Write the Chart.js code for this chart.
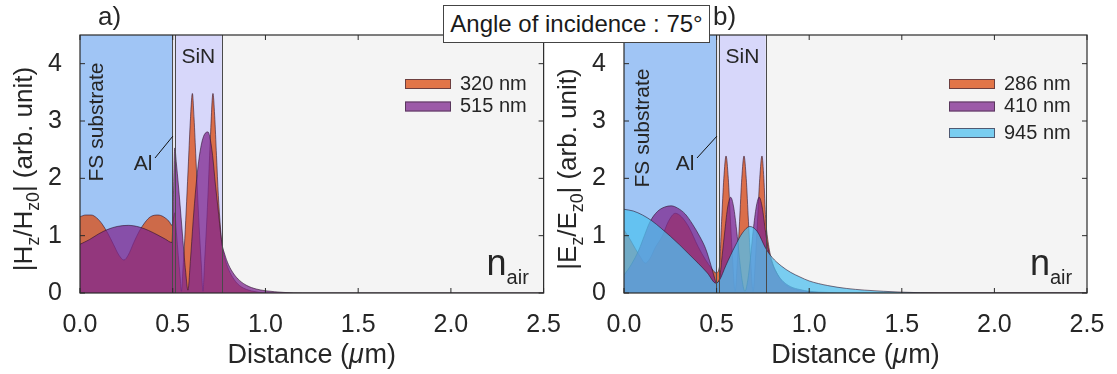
<!DOCTYPE html>
<html>
<head>
<meta charset="utf-8">
<script src="https://cdn.jsdelivr.net/npm/chart.js@4.4.0/dist/chart.umd.min.js"></script>
<style>
  body { margin: 0; background: #fff; width: 1117px; height: 374px; position: relative; overflow: hidden; font-family: 'Liberation Sans', Arial, sans-serif; }
  canvas { position: absolute; top: 0; }
  #panelA { left: 0; }
  #panelB { left: 547px; }
  #angle { position: absolute; left: 443px; top: 5px; width: 265px; height: 36px; border: 1px solid #444; background: #fff;
           font-size: 24px; color: #1a1a1a; line-height: 36px; text-align: center; white-space: nowrap; z-index: 5; }
</style>
</head>
<body>
<canvas id="panelA" width="570" height="374"></canvas>
<canvas id="panelB" width="570" height="374"></canvas>
<div id="angle">Angle of incidence : 75°</div>
<script>
// ---- data ----
const xTickLabels = ['0.0', '0.5', '1.0', '1.5', '2.0', '2.5'];
const yTickLabels = ['0', '1', '2', '3', '4'];

// layers (µm) for each panel
const fsA = [0, 0.496], alA = [0.496, 0.511], sinA = [0.511, 0.765];
const fsB = [0, 0.497], alB = [0.497, 0.515], sinB = [0.515, 0.765];

// panel a) |Hz/Hz0|
const h320X = [0, 0.03, 0.06, 0.09, 0.12, 0.15, 0.18, 0.21, 0.237, 0.26, 0.29, 0.32, 0.35, 0.38, 0.42, 0.45, 0.48, 0.496,
  0.511, 0.52, 0.53, 0.54, 0.547, 0.555, 0.565, 0.575, 0.585, 0.595, 0.606, 0.615, 0.625, 0.635, 0.645, 0.655, 0.663,
  0.672, 0.682, 0.692, 0.703, 0.717, 0.726, 0.736, 0.746, 0.756, 0.765, 0.78, 0.8, 0.83, 0.86, 0.9, 0.95, 1.0, 2.5];
const h320Y = [1.33, 1.36, 1.36, 1.31, 1.2, 1.04, 0.85, 0.66, 0.575, 0.66, 0.88, 1.08, 1.23, 1.33, 1.36, 1.33, 1.25, 1.18,
  1.4, 1.05, 0.65, 0.28, 0.03, 0.4, 0.95, 1.6, 2.3, 3.0, 3.48, 3.05, 2.35, 1.65, 1.0, 0.45, 0.03,
  0.55, 1.15, 1.85, 2.7, 3.48, 3.1, 2.4, 1.7, 1.2, 0.87, 0.62, 0.42, 0.24, 0.13, 0.06, 0.02, 0, 0];

const h515X = [0, 0.05, 0.1, 0.15, 0.2, 0.26, 0.32, 0.37, 0.42, 0.46, 0.496, 0.503, 0.511, 0.52, 0.53, 0.54, 0.55, 0.56,
  0.57, 0.582, 0.595, 0.61, 0.625, 0.64, 0.655, 0.67, 0.69, 0.7, 0.715, 0.73, 0.745, 0.765, 0.78, 0.8, 0.83, 0.86, 0.9,
  0.95, 1.0, 1.1, 1.2, 2.5];
const h515Y = [0.85, 0.93, 1.03, 1.11, 1.16, 1.18, 1.15, 1.09, 1.01, 0.94, 0.88, 1.6, 2.53, 2.25, 1.9, 1.52, 1.12, 0.72,
  0.36, 0.05, 0.55, 1.25, 1.85, 2.3, 2.6, 2.76, 2.81, 2.72, 2.4, 1.9, 1.45, 0.87, 0.68, 0.5, 0.33, 0.22, 0.13,
  0.07, 0.04, 0.01, 0, 0];

// panel b) |Ez/Ez0|
const e286X = [0, 0.03, 0.06, 0.09, 0.115, 0.14, 0.17, 0.205, 0.24, 0.277, 0.31, 0.35, 0.4, 0.44, 0.475, 0.497, 0.515,
  0.527, 0.539, 0.551, 0.563, 0.575, 0.587, 0.6, 0.612, 0.624, 0.636, 0.648, 0.66, 0.672, 0.684, 0.697, 0.709, 0.721,
  0.733, 0.745, 0.755, 0.765, 0.78, 0.8, 0.83, 0.86, 0.9, 0.95, 1.0, 1.1, 2.5];
const e286Y = [1.1, 0.95, 0.78, 0.62, 0.52, 0.6, 0.8, 0.98, 1.25, 1.39, 1.33, 1.15, 0.81, 0.58, 0.42, 0.35, 0.45,
  1.25, 2.0, 2.39, 2.0, 1.25, 0.55, 0.03, 0.55, 1.25, 2.0, 2.39, 2.0, 1.25, 0.55, 0.03, 0.55, 1.25,
  2.0, 2.39, 2.0, 1.3, 0.85, 0.55, 0.32, 0.18, 0.09, 0.04, 0.02, 0, 0];

const e410X = [0, 0.04, 0.08, 0.11, 0.14, 0.18, 0.22, 0.255, 0.29, 0.33, 0.37, 0.41, 0.44, 0.47, 0.49, 0.497, 0.515,
  0.53, 0.545, 0.56, 0.576, 0.592, 0.608, 0.623, 0.638, 0.653, 0.668, 0.683, 0.698, 0.714, 0.73, 0.746, 0.765, 0.78,
  0.8, 0.83, 0.86, 0.9, 0.95, 1.0, 1.1, 1.2, 2.5];
const e410Y = [0.31, 0.5, 0.75, 1.0, 1.24, 1.42, 1.5, 1.52, 1.48, 1.38, 1.2, 0.98, 0.78, 0.48, 0.25, 0.18, 0.24,
  0.65, 1.1, 1.5, 1.67, 1.5, 1.1, 0.62, 0.22, 0.03, 0.22, 0.62, 1.1, 1.5, 1.67, 1.5, 1.05, 0.75,
  0.52, 0.32, 0.2, 0.11, 0.06, 0.03, 0.01, 0, 0];

const e945X = [0, 0.05, 0.1, 0.15, 0.2, 0.25, 0.3, 0.35, 0.4, 0.45, 0.497, 0.515, 0.55, 0.6, 0.64, 0.68, 0.72, 0.765,
  0.8, 0.85, 0.9, 0.95, 1.0, 1.1, 1.2, 1.3, 1.4, 1.5, 1.6, 1.7, 2.5];
const e945Y = [1.46, 1.43, 1.36, 1.26, 1.13, 0.99, 0.84, 0.68, 0.52, 0.35, 0.17, 0.22, 0.48, 0.82, 1.05, 1.16, 1.07, 0.78,
  0.62, 0.47, 0.36, 0.28, 0.21, 0.13, 0.08, 0.05, 0.03, 0.015, 0.005, 0, 0];

// ---- style ----
const FONT = "'Liberation Sans', Arial, Helvetica, sans-serif";
const INK = '#262626';
const ORANGE = 'rgba(220,75,15,0.75)';
const PURPLE = 'rgba(127,39,143,0.75)';
const BLUE = 'rgba(80,192,239,0.75)';

function pts(xs, ys) {
  return xs.map((x, i) => ({ x: x, y: ys[i] }));
}

function series(label, xs, ys, color, order) {
  return {
    label: label,
    data: pts(xs, ys),
    backgroundColor: color,
    borderColor: 'rgba(45,20,45,0.75)',
    borderWidth: 0.8,
    fill: 'origin',
    pointRadius: 0,
    cubicInterpolationMode: 'monotone',
    order: order
  };
}

// text with subscripts, drawn along current x axis, centred on 0
function drawRich(ctx, parts, size) {
  let total = 0;
  parts.forEach(p => {
    ctx.font = (p.sub ? size * 0.68 : size) + 'px ' + FONT;
    p.w = ctx.measureText(p.t).width;
    total += p.w;
  });
  let x = -total / 2;
  parts.forEach(p => {
    ctx.font = (p.italic ? 'italic ' : '') + (p.sub ? size * 0.68 : size) + 'px ' + FONT;
    ctx.fillText(p.t, x, p.sub ? size * 0.28 : 0);
    x += p.w;
  });
}

function panelPlugin(cfg) {
  return {
    id: 'panel' + cfg.tag,
    beforeDatasetsDraw(chart) {
      const { ctx, chartArea: a, scales: { x } } = chart;
      const px = v => x.getPixelForValue(v);
      ctx.save();
      ctx.fillStyle = '#f4f4f4';
      ctx.fillRect(a.left, a.top, a.width, a.height);
      ctx.fillStyle = '#a0c5f5';
      ctx.fillRect(px(cfg.fs[0]), a.top, px(cfg.fs[1]) - px(cfg.fs[0]), a.height);
      ctx.fillStyle = '#e6e6ee';
      ctx.fillRect(px(cfg.al[0]), a.top, px(cfg.al[1]) - px(cfg.al[0]), a.height);
      ctx.fillStyle = '#d7d7fa';
      ctx.fillRect(px(cfg.sin[0]), a.top, px(cfg.sin[1]) - px(cfg.sin[0]), a.height);
      ctx.restore();
    },
    afterDatasetsDraw(chart) {
      const { ctx, chartArea: a, scales: { x, y } } = chart;
      const px = v => x.getPixelForValue(v);
      ctx.save();
      // layer borders
      ctx.strokeStyle = '#4a4a4a';
      ctx.lineWidth = 1;
      [cfg.al[0], cfg.al[1], cfg.sin[1]].forEach(v => {
        const p = Math.round(px(v)) + 0.5;
        ctx.beginPath(); ctx.moveTo(p, a.top); ctx.lineTo(p, a.bottom); ctx.stroke();
      });
      // frame + inward ticks
      ctx.strokeStyle = '#2a2a2a';
      ctx.lineWidth = 1.2;
      ctx.strokeRect(a.left, a.top, a.width, a.height);
      ctx.lineWidth = 1;
      x.ticks.forEach(t => {
        const p = px(t.value);
        ctx.beginPath();
        ctx.moveTo(p, a.bottom); ctx.lineTo(p, a.bottom - 5);
        ctx.moveTo(p, a.top); ctx.lineTo(p, a.top + 5);
        ctx.stroke();
      });
      y.ticks.forEach(t => {
        const p = y.getPixelForValue(t.value);
        ctx.beginPath();
        ctx.moveTo(a.left, p); ctx.lineTo(a.left + 5, p);
        ctx.moveTo(a.right, p); ctx.lineTo(a.right - 5, p);
        ctx.stroke();
      });

      ctx.fillStyle = INK;
      // layer labels
      ctx.textAlign = 'center';
      ctx.textBaseline = 'middle';
      ctx.font = '21px ' + FONT;
      ctx.fillText('SiN', (px(cfg.sin[0]) + px(cfg.sin[1])) / 2, 57);
      ctx.save();
      ctx.translate(a.left + cfg.fsX, cfg.fsY);
      ctx.rotate(-Math.PI / 2);
      ctx.fillText('FS substrate', 0, 0);
      ctx.restore();
      ctx.fillText('Al', a.left + cfg.alX, 164);
      ctx.strokeStyle = '#111';
      ctx.lineWidth = 1;
      ctx.beginPath();
      ctx.moveTo(a.left + cfg.alX + 12, 158);
      ctx.lineTo(px(cfg.al[0]) + 1, 136);
      ctx.stroke();

      // n_air
      ctx.textAlign = 'left';
      ctx.textBaseline = 'alphabetic';
      ctx.font = '36px ' + FONT;
      ctx.fillText('n', a.right - 57, 275);
      ctx.font = '20px ' + FONT;
      ctx.fillText('air', a.right - 37, 284);

      // legend
      ctx.textBaseline = 'middle';
      ctx.font = '20px ' + FONT;
      chart.data.datasets.forEach((d, i) => {
        const ly = cfg.legendY[i];
        ctx.fillStyle = '#f4f4f4';
        ctx.fillRect(a.left + 325, ly, 46, 10);
        ctx.fillStyle = d.backgroundColor;
        ctx.fillRect(a.left + 325, ly, 46, 10);
        ctx.strokeStyle = 'rgba(60,40,60,0.7)';
        ctx.strokeRect(a.left + 325.5, ly + 0.5, 45, 9);
        ctx.fillStyle = INK;
        ctx.fillText(d.label, a.left + 380, ly + 5);
      });

      // panel letter
      ctx.font = '26px ' + FONT;
      ctx.fillText(cfg.tag, a.left + cfg.tagX, 18);

      // axis titles
      ctx.textAlign = 'left';
      ctx.textBaseline = 'alphabetic';
      ctx.save();
      ctx.translate(a.left - 48, 169);
      ctx.rotate(-Math.PI / 2);
      drawRich(ctx, cfg.yTitle, 26);
      ctx.restore();
      ctx.save();
      ctx.translate((a.left + a.right) / 2, 363);
      drawRich(ctx, [{ t: 'Distance (' }, { t: 'μ', italic: true }, { t: 'm)' }], 27);
      ctx.restore();
      ctx.restore();
    }
  };
}

function makePanel(id, datasets, cfg, rightPad, yWidth) {
  return new Chart(document.getElementById(id), {
    type: 'line',
    data: { datasets: datasets },
    options: {
      responsive: false,
      animation: false,
      devicePixelRatio: 1,
      layout: { padding: { top: 35, right: rightPad, left: 0, bottom: 0 } },
      plugins: { legend: { display: false }, tooltip: { enabled: false } },
      scales: {
        x: {
          type: 'linear', min: 0, max: 2.5,
          grid: { display: false }, border: { display: false },
          ticks: {
            stepSize: 0.5, color: INK, padding: 9, maxRotation: 0,
            font: { size: 25, family: FONT },
            callback: v => xTickLabels[Math.round(v / 0.5)]
          },
          afterFit: s => { s.height = 81; }
        },
        y: {
          min: 0, max: 4.5,
          grid: { display: false }, border: { display: false },
          ticks: {
            stepSize: 1, includeBounds: false, color: INK, padding: 10,
            font: { size: 25, family: FONT },
            callback: v => yTickLabels[v]
          },
          afterFit: s => { s.width = yWidth; }
        }
      }
    },
    plugins: [panelPlugin(cfg)]
  });
}

makePanel('panelA', [
  series('320 nm', h320X, h320Y, ORANGE, 2),
  series('515 nm', h515X, h515Y, PURPLE, 1)
], {
  tag: 'a)', tagX: 18, fs: fsA, al: alA, sin: sinA, fsX: 17, fsY: 122, alX: 63, legendY: [79, 101.5],
  yTitle: [{ t: '|H' }, { t: 'z', sub: true }, { t: '/H' }, { t: 'z0', sub: true }, { t: '| (arb. unit)' }]
}, 25, 80);

makePanel('panelB', [
  series('286 nm', e286X, e286Y, ORANGE, 3),
  series('410 nm', e410X, e410Y, PURPLE, 2),
  series('945 nm', e945X, e945Y, BLUE, 1)
], {
  tag: 'b)', tagX: 89, fs: fsB, al: alB, sin: sinB, fsX: 19, fsY: 128, alX: 61, legendY: [79, 101.5, 128],
  yTitle: [{ t: '|E' }, { t: 'z', sub: true }, { t: '/E' }, { t: 'z0', sub: true }, { t: '| (arb. unit)' }]
}, 30, 77);
</script>
</body>
</html>
